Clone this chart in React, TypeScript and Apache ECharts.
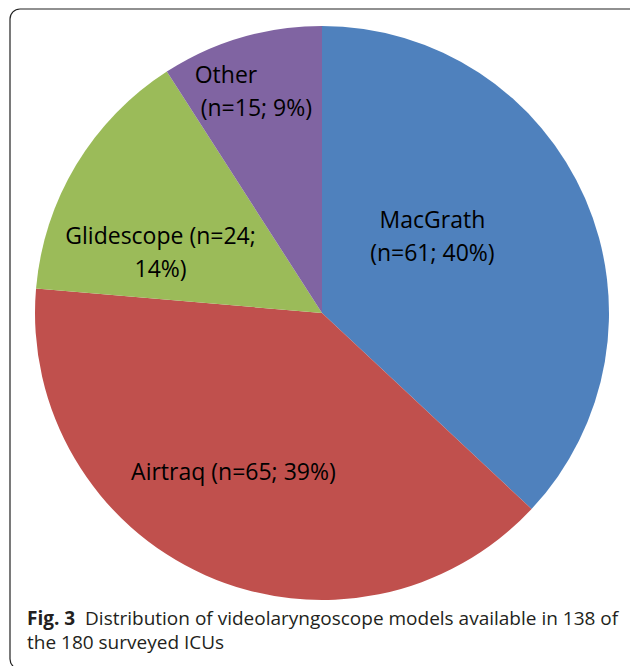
import React, { useEffect, useRef } from "react";
import * as echarts from "echarts";

const categories = ["MacGrath", "Airtraq", "Glidescope", "Other"];
const counts = [61, 65, 24, 15];
const labelTexts = [
  "{c|MacGrath}\n{c|(n=61; 40%)}",
  "{c|Airtraq (n=65; 39%)}",
  "{c|Glidescope (n=24;}\n{c|14%)}",
  "{l|Other}\n{l| (n=15; 9%)}",
];
const colors = ["#4F81BD", "#C0504D", "#9BBB59", "#8064A2"];
const labelOffsets: [number, number][] = [
  [-24, -19],
  [-29, 24],
  [-36, 14],
  [-22, -82],
];
const captionBold = "Fig. 3";
const captionLine1 = "  Distribution of videolaryngoscope models available in 138 of";
const captionLine2 = "the 180 surveyed ICUs";

export default function App() {
  const ref = useRef<HTMLDivElement>(null);
  useEffect(() => {
    if (!ref.current) return;
    const chart = echarts.init(ref.current, null, { renderer: "svg" });
    const labelFont = { fontFamily: "Open Sans", fontSize: 23, color: "#000", lineHeight: 33 };
    chart.setOption({
      animation: false,
      backgroundColor: "#ffffff",
      graphic: [
        {
          type: "rect",
          shape: { x: 10, y: 9, width: 630, height: 660, r: 10 },
          style: { fill: "none", stroke: "#222", lineWidth: 1.2 },
          z: 0,
        },
        {
          type: "text",
          x: 27,
          y: 607,
          style: {
            text: "{b|" + captionBold + "}{n|" + captionLine1 + "}",
            rich: {
              b: { fontFamily: "Open Sans", fontSize: 19, fontWeight: "bold", fill: "#231f20", lineHeight: 21 },
              n: { fontFamily: "Open Sans", fontSize: 19, fill: "#231f20", lineHeight: 21 },
            },
          },
        },
        {
          type: "text",
          x: 27,
          y: 631,
          style: {
            text: captionLine2,
            fontFamily: "Open Sans",
            fontSize: 19,
            fill: "#231f20",
            lineHeight: 21,
          },
        },
      ],
      series: [
        {
          type: "pie",
          center: [322, 313],
          radius: [0, 287],
          startAngle: 90,
          clockwise: true,
          silent: true,
          label: {
            show: true,
            position: "inside",
            ...labelFont,
            rich: {
              c: { ...labelFont, align: "center" },
              l: { ...labelFont, align: "left", width: 128 },
            },
          },
          labelLine: { show: false },
          itemStyle: { borderWidth: 0 },
          data: categories.map((name, i) => ({
            name,
            value: counts[i],
            itemStyle: { color: colors[i] },
            label: {
              formatter: labelTexts[i],
              offset: labelOffsets[i],
            },
          })),
        },
      ],
    });
    return () => chart.dispose();
  }, []);
  return (
    <div
      ref={ref}
      style={{ position: "absolute", left: 0, top: 0, width: 630, height: 666 }}
    />
  );
}
